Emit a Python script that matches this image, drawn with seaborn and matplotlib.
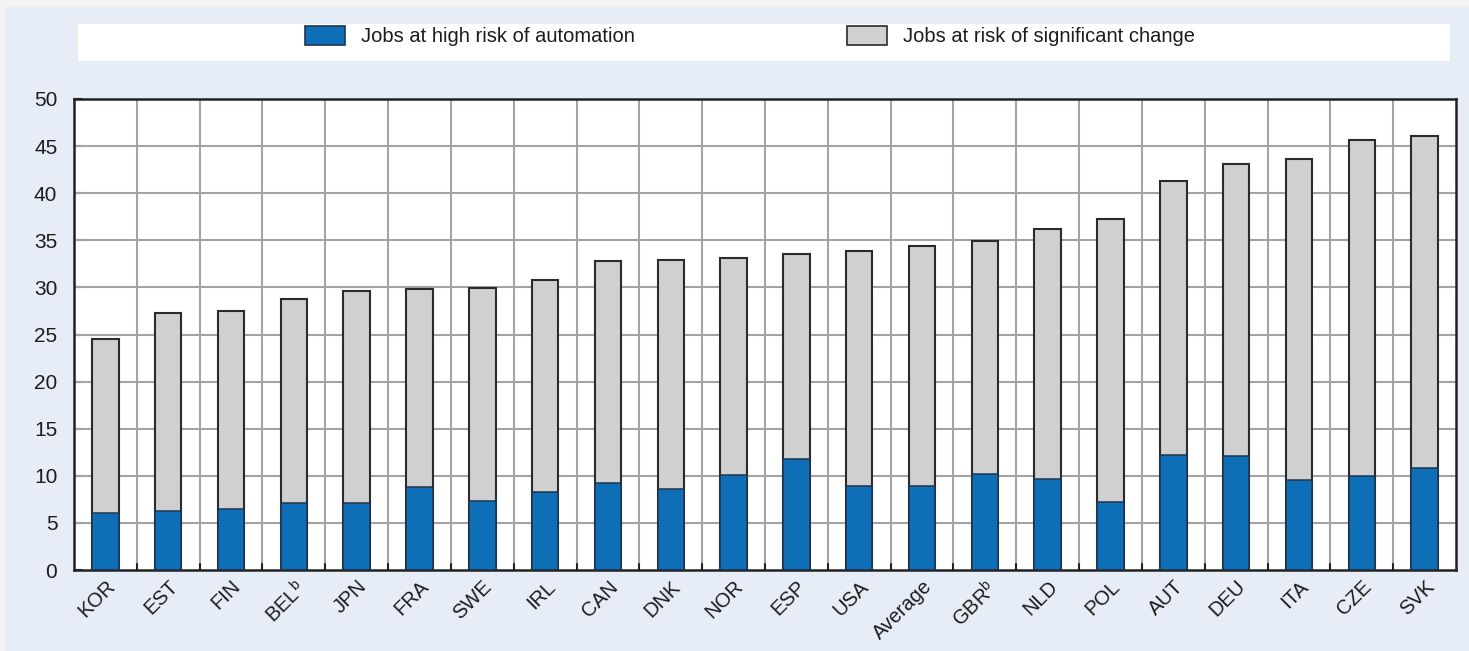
import matplotlib
matplotlib.use('Agg')
import matplotlib.pyplot as plt
from matplotlib import font_manager
from matplotlib.patches import Patch, Rectangle
import seaborn as sns
import pandas as pd

countries = ['KOR', 'EST', 'FIN', 'BEL$^{\\mathregular{b}}$', 'JPN', 'FRA', 'SWE', 'IRL', 'CAN', 'DNK',
             'NOR', 'ESP', 'USA', 'Average', 'GBR$^{\\mathregular{b}}$', 'NLD', 'POL', 'AUT', 'DEU',
             'ITA', 'CZE', 'SVK']
high_risk = [6.0, 6.3, 6.5, 7.1, 7.1, 8.8, 7.3, 8.3, 9.2, 8.6,
             10.1, 11.8, 8.9, 8.9, 10.2, 9.7, 7.2, 12.2, 12.1, 9.6, 10.0, 10.8]
total_risk = [24.5, 27.3, 27.5, 28.8, 29.6, 29.8, 29.9, 30.8, 32.8, 32.9,
              33.1, 33.5, 33.9, 34.4, 34.9, 36.2, 37.3, 41.3, 43.1, 43.6, 45.7, 46.1]
yticks = list(range(0, 55, 5))

blue = '#0f6fb6'
grey = '#d0d0d0'
bg = '#e7edf7'

sns.set_theme(style='white')
names = {f.name for f in font_manager.fontManager.ttflist}
main_font = 'Liberation Sans Narrow' if 'Liberation Sans Narrow' in names else 'Liberation Sans'
plt.rcParams['font.family'] = [main_font, 'DejaVu Sans']
plt.rcParams['mathtext.fontset'] = 'custom'
plt.rcParams['mathtext.rm'] = main_font

df = pd.DataFrame({'country': countries, 'high': high_risk, 'total': total_risk})

fig = plt.figure(figsize=(14.69, 6.51), dpi=100, facecolor='#f3f3f3')
fig.patches.append(Rectangle((5 / 1469, 0), 1, 1 - 7 / 651, transform=fig.transFigure,
                             facecolor=bg, edgecolor='none', zorder=-2))
# white legend strip
fig.patches.append(Rectangle((78 / 1469, 1 - 61 / 651), (1450 - 78) / 1469, 37 / 651,
                             transform=fig.transFigure, facecolor='white',
                             edgecolor='none', zorder=-1))

ax = fig.add_axes([74 / 1469, 1 - 570 / 651, (1456 - 74) / 1469, (570 - 99) / 651])
ax.set_facecolor('white')

sns.barplot(data=df, x='country', y='total', color=grey, edgecolor='#2b2b2b',
            linewidth=1.5, width=0.42, saturation=1, ax=ax, zorder=3)
sns.barplot(data=df, x='country', y='high', color=blue, edgecolor='#1e3550',
            linewidth=1.1, width=0.42, saturation=1, ax=ax, zorder=4)

ax.set_xlim(-0.5, len(countries) - 0.5)
ax.set_ylim(0, 50)
ax.set_yticks(yticks)
ax.set_yticklabels([str(t) for t in yticks], fontsize=15, color='#1c1c1c')
ax.set_xticks(range(len(countries)))
ax.set_xticklabels(countries, rotation=45, ha='right', rotation_mode='anchor',
                   fontsize=14.5, color='#1c1c1c')
ax.set_xlabel('')
ax.set_ylabel('')

# grid: horizontal at ticks, vertical between categories
for t in yticks[1:-1]:
    ax.axhline(t, color='#a3a3a3', linewidth=1.5, zorder=1)
for k in range(1, len(countries)):
    ax.axvline(k - 0.5, color='#a3a3a3', linewidth=1.5, zorder=1)
    ax.plot([k - 0.5, k - 0.5], [0, 0.6], color='#222222', linewidth=1.5, zorder=5)

ax.tick_params(axis='y', direction='in', length=6, width=1.5, color='#222222', pad=12, left=True)
ax.tick_params(axis='x', length=0, pad=5)
for s in ax.spines.values():
    s.set_visible(True)
    s.set_color('#222222')
    s.set_linewidth(1.8)

handles = [Patch(facecolor=blue, edgecolor='#1e3550', linewidth=1.2),
           Patch(facecolor=grey, edgecolor='#2b2b2b', linewidth=1.2)]
fig.legend(handles, ['Jobs at high risk of automation', 'Jobs at risk of significant change'],
           loc='center', bbox_to_anchor=(0.5105, 1 - 36 / 651), ncol=2, frameon=False,
           fontsize=14.5, handlelength=2.0, handleheight=1.05, handletextpad=0.8,
           columnspacing=10.5, labelcolor='#1c1c1c')

fig.savefig('out.png', dpi=100, facecolor=fig.get_facecolor())
